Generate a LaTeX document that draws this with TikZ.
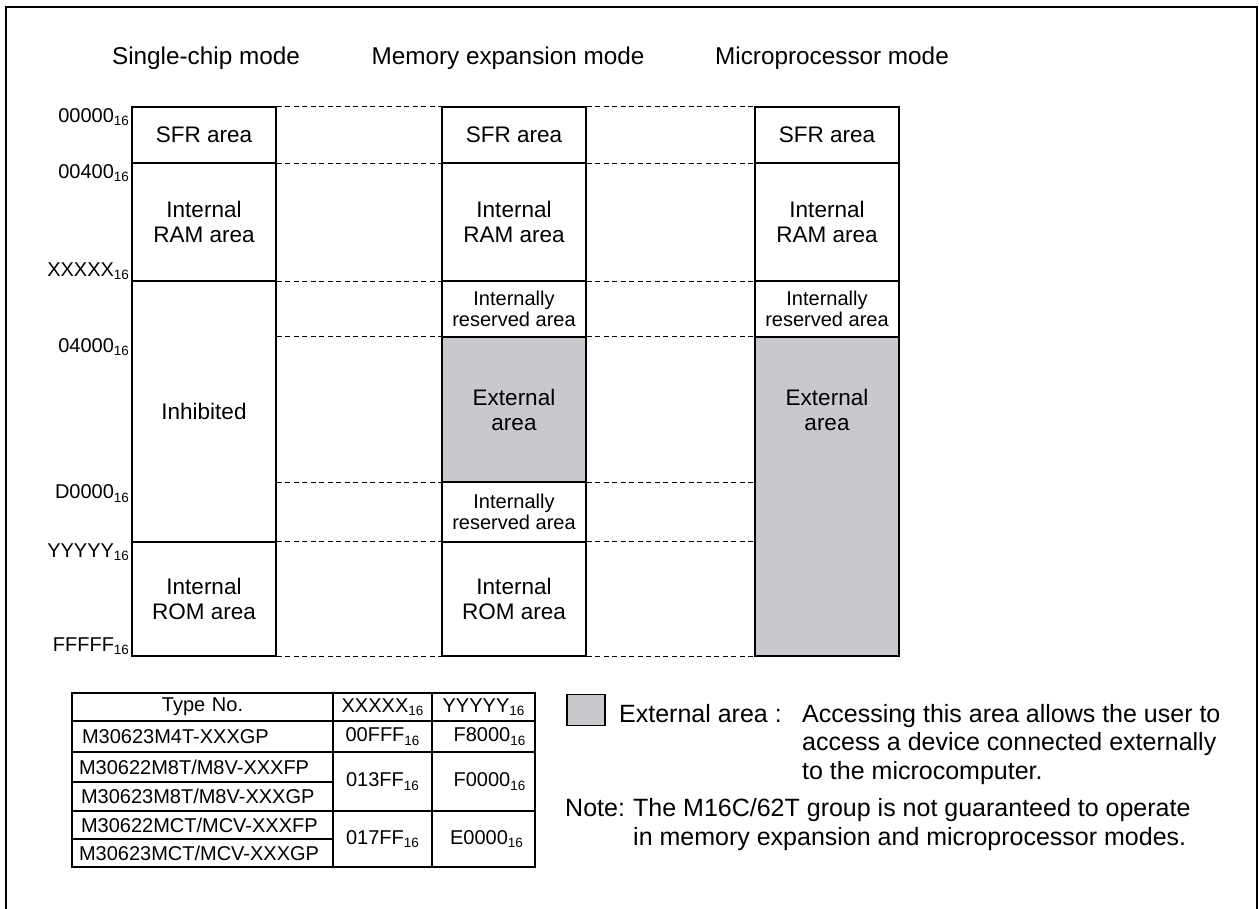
\documentclass[tikz,border=0pt]{standalone}
\usepackage{fontspec}
\setmainfont{Liberation Sans}
\usetikzlibrary{positioning}
\definecolor{extgray}{RGB}{200,201,204}
\newcommand\sixteen{\raisebox{-0.3ex}{\fontsize{13.5}{14}\selectfont 16}}
\tikzset{
  cell/.style={draw, line width=1.6pt, minimum width=144pt, inner sep=0pt, align=center, font=\fontsize{22.5}{25}\selectfont},
  smallcell/.style={cell, font=\fontsize{20}{21.5}\selectfont},
  dashline/.style={dash pattern=on 5pt off 3.5pt, line width=1pt},
  addr/.style={inner sep=2pt, font=\fontsize{20}{22}\selectfont},
  mode/.style={anchor=base, inner sep=0pt, font=\fontsize{24.3}{27}\selectfont},
  tcell/.style={draw, line width=1.6pt, outer sep=0pt, inner sep=0pt, anchor=north west, font=\fontsize{20}{22}\selectfont},
  tname/.style={tcell, text width=247pt, inner xsep=7pt, align=left},
  legtext/.style={anchor=base west, inner sep=0pt, font=\fontsize{25}{28}\selectfont},
}
\begin{document}
\begin{tikzpicture}[x=1pt,y=-1pt]
    \useasboundingbox (0,0) rectangle (1259,909);
    %% frame
    \draw[line width=2.6pt] (6,909) -- (6,7) -- (1257,7) -- (1257,909);
    %% mode titles
    \node[mode] (hsingle) at (206,65) {Single-chip mode};
    \node[mode] (hexpand) at (508,65) {Memory expansion mode};
    \node[mode] (hmicro) at (832,65) {Microprocessor mode};
    %% single-chip mode
    \node[cell, minimum height=56pt] (sfr1) at (204,135) {SFR area};
    \node[cell, minimum height=118pt] (ram1) at (204,222) {Internal\\RAM area};
    \node[cell, minimum height=261pt] (inh1) at (204,411.5) {Inhibited};
    \node[cell, minimum height=114pt] (rom1) at (204,599) {Internal\\ROM area};
    %% memory expansion mode
    \node[cell, minimum height=56pt] (sfr2) at (514,135) {SFR area};
    \node[cell, minimum height=118pt] (ram2) at (514,222) {Internal\\RAM area};
    \node[smallcell, minimum height=56pt] (rsv2a) at (514,309) {Internally\\reserved area};
    \node[cell, minimum height=145pt, fill=extgray] (ext2) at (514,409.5) {External\\area};
    \node[smallcell, minimum height=60pt] (rsv2b) at (514,512) {Internally\\reserved area};
    \node[cell, minimum height=114pt] (rom2) at (514,599) {Internal\\ROM area};
    %% microprocessor mode
    \node[cell, minimum height=56pt] (sfr3) at (827,135) {SFR area};
    \node[cell, minimum height=118pt] (ram3) at (827,222) {Internal\\RAM area};
    \node[smallcell, minimum height=56pt] (rsv3) at (827,309) {Internally\\reserved area};
    \node[cell, minimum height=319pt, fill=extgray] (ext3) at (827,496.5) {};
    \node[cell, draw=none] (ext3txt) at (ext3.center |- ext2.center) {External\\area};
    %% addresses
    \node[addr, anchor=north east] (a00000) at (sfr1.north west) {00000\sixteen};
    \node[addr, anchor=north east] (a00400) at (ram1.north west) {00400\sixteen};
    \node[addr, anchor=south east] (axxxxx) at (ram1.south west) {XXXXX\sixteen};
    \node[addr, anchor=north east] (a04000) at (inh1.west |- ext2.north) {04000\sixteen};
    \node[addr, anchor=north east] (ad0000) at (inh1.west |- ext2.south) {D0000\sixteen};
    \node[addr, anchor=north east] (ayyyyy) at (rom1.north west) {YYYYY\sixteen};
    \node[addr, anchor=south east] (afffff) at (rom1.south west) {FFFFF\sixteen};
    %% dashed boundaries
    \draw[dashline] (sfr1.north east) -- (sfr2.north west) (sfr2.north east) -- (sfr3.north west);
    \draw[dashline] (sfr1.south east) -- (sfr2.south west) (sfr2.south east) -- (sfr3.south west);
    \draw[dashline] (ram1.south east) -- (ram2.south west) (ram2.south east) -- (ram3.south west);
    \draw[dashline] (inh1.east |- ext2.north) -- (ext2.north west) (ext2.north east) -- (ext3.north west);
    \draw[dashline] (inh1.east |- ext2.south) -- (ext2.south west) (ext2.south east) -- (ext3.west |- ext2.south);
    \draw[dashline] (rom1.north east) -- (rom2.north west) (rom2.north east) -- (ext3.west |- rom2.north);
    \draw[dashline] (rom1.south east) -- (rom2.south west) (rom2.south east) -- (ext3.south west);
    %% type table
    \node[tname, align=center, minimum height=28pt] (ttype) at (72,693) {Type No.};
    \node[tcell, minimum width=99pt, minimum height=28pt] (tx) at (ttype.north east) {XXXXX\sixteen};
    \node[tcell, minimum width=103pt, minimum height=28pt] (ty) at (tx.north east) {YYYYY\sixteen};
    \node[tname, minimum height=31pt] (tm4) at (ttype.south west) {\hspace{3pt}M30623M4T-XXXGP};
    \node[tcell, minimum width=99pt, minimum height=31pt] (tm4x) at (tm4.north east) {00FFF\sixteen};
    \node[tcell, minimum width=103pt, minimum height=31pt] (tm4y) at (tm4x.north east) {\hspace{12pt}F8000\sixteen};
    \node[tname, minimum height=30pt] (tm8a) at (tm4.south west) {M30622M8T/M8V-XXXFP};
    \node[tname, minimum height=29pt] (tm8b) at (tm8a.south west) {\hspace{2pt}M30623M8T/M8V-XXXGP};
    \node[tcell, minimum width=99pt, minimum height=59pt] (tm8x) at (tm8a.north east) {013FF\sixteen};
    \node[tcell, minimum width=103pt, minimum height=59pt] (tm8y) at (tm8x.north east) {\hspace{12pt}F0000\sixteen};
    \node[tname, minimum height=28pt] (tmca) at (tm8b.south west) {\hspace{2pt}M30622MCT/MCV-XXXFP};
    \node[tname, minimum height=28pt] (tmcb) at (tmca.south west) {M30623MCT/MCV-XXXGP};
    \node[tcell, minimum width=99pt, minimum height=56pt] (tmcx) at (tmca.north east) {017FF\sixteen};
    \node[tcell, minimum width=103pt, minimum height=56pt] (tmcy) at (tmcx.north east) {\hspace{6pt}E0000\sixteen};
    \draw[line width=2.4pt] (ttype.north west) rectangle (tmcy.south east);
    %% legend and note
    \node[draw, line width=1.5pt, fill=extgray, minimum width=38pt, minimum height=31pt, inner sep=0pt] (key) at (586,710) {};
    \node[legtext] (keyname) at (619,722) {External area :};
    \node[legtext] (keyline1) at (802,722) {Accessing this area allows the user to};
    \node[legtext] (keyline2) at (802,750) {access a device connected externally};
    \node[legtext] (keyline3) at (802,779) {to the microcomputer.};
    \node[legtext] (note) at (565,816) {Note:};
    \node[legtext] (noteline1) at (633,816) {The M16C/62T group is not guaranteed to operate};
    \node[legtext] (noteline2) at (633,845) {in memory expansion and microprocessor modes.};
\end{tikzpicture}
\end{document}
